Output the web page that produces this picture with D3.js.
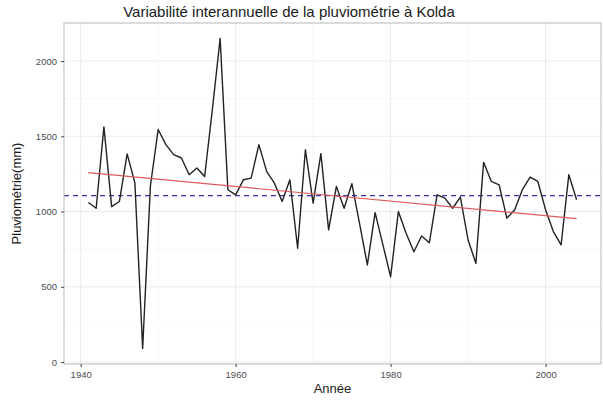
<!DOCTYPE html>
<html>
<head>
<meta charset="utf-8">
<script src="https://cdn.jsdelivr.net/npm/d3@7"></script>
<style>
  body { margin: 0; background: #fff; }
  svg { display: block; font-family: "Liberation Sans", Arial, sans-serif; }
</style>
</head>
<body>
<svg id="chart" width="603" height="400"></svg>
<script>
// Annual rainfall at Kolda (mm), 1941-2004
const years = d3.range(1941, 2005);
const rainfall = [
  1060, 1022, 1563, 1033, 1067, 1383, 1190, 90, 1170, 1545,
  1445, 1378, 1356, 1245, 1290, 1233, 1680, 2150, 1145, 1111,
  1211, 1222, 1445, 1267, 1189, 1067, 1211, 756, 1411, 1056,
  1385, 878, 1167, 1022, 1185, 918, 645, 993, 780, 567,
  1000, 856, 733, 838, 793, 1111, 1089, 1022, 1096, 811,
  656, 1327, 1200, 1178, 956, 1011, 1145, 1229, 1200, 1011,
  867, 778, 1245, 1078
];
const xTicks = [1940, 1960, 1980, 2000];
const xMinor = [1950, 1970, 1990];
const yTicks = [0, 500, 1000, 1500, 2000];
const yMinor = [250, 750, 1250, 1750];

const data = years.map((y, i) => ({ year: y, value: rainfall[i] }));

const svg = d3.select("#chart");
const panel = { left: 64, right: 601, top: 23, bottom: 364 };

// ggplot-style 5% expansion of the data range
function expand(ext) {
  const pad = (ext[1] - ext[0]) * 0.05;
  return [ext[0] - pad, ext[1] + pad];
}
const x = d3.scaleLinear().domain(expand(d3.extent(years))).range([panel.left, panel.right]);
const y = d3.scaleLinear().domain(expand(d3.extent(rainfall))).range([panel.bottom, panel.top]);

// panel background and grid
svg.append("rect")
  .attr("x", panel.left).attr("y", panel.top)
  .attr("width", panel.right - panel.left).attr("height", panel.bottom - panel.top)
  .attr("fill", "#fff");

const grid = svg.append("g");
grid.selectAll(".vminor").data(xMinor).join("line")
  .attr("x1", d => x(d)).attr("x2", d => x(d))
  .attr("y1", panel.top).attr("y2", panel.bottom)
  .attr("stroke", "#f4f4f4").attr("stroke-width", 0.6);
grid.selectAll(".hminor").data(yMinor).join("line")
  .attr("y1", d => y(d)).attr("y2", d => y(d))
  .attr("x1", panel.left).attr("x2", panel.right)
  .attr("stroke", "#f4f4f4").attr("stroke-width", 0.6);
grid.selectAll(".vmajor").data(xTicks).join("line")
  .attr("x1", d => x(d)).attr("x2", d => x(d))
  .attr("y1", panel.top).attr("y2", panel.bottom)
  .attr("stroke", "#ebebeb").attr("stroke-width", 1);
grid.selectAll(".hmajor").data(yTicks).join("line")
  .attr("y1", d => y(d)).attr("y2", d => y(d))
  .attr("x1", panel.left).attr("x2", panel.right)
  .attr("stroke", "#ebebeb").attr("stroke-width", 1);

// mean line
const mean = d3.mean(rainfall);
svg.append("line")
  .attr("x1", panel.left).attr("x2", panel.right)
  .attr("y1", y(mean)).attr("y2", y(mean))
  .attr("stroke", "#3535b0").attr("stroke-width", 1.1)
  .attr("stroke-dasharray", "5,4");

// rainfall series
svg.append("path")
  .datum(data)
  .attr("fill", "none")
  .attr("stroke", "#222")
  .attr("stroke-width", 1.4)
  .attr("stroke-linejoin", "round")
  .attr("d", d3.line().x(d => x(d.year)).y(d => y(d.value)));

// least-squares trend
const mx = d3.mean(years);
const slope = d3.sum(data, d => (d.year - mx) * (d.value - mean)) /
              d3.sum(data, d => (d.year - mx) ** 2);
const trend = yr => mean + slope * (yr - mx);
const yr0 = years[0], yr1 = years[years.length - 1];
svg.append("line")
  .attr("x1", x(yr0)).attr("x2", x(yr1))
  .attr("y1", y(trend(yr0))).attr("y2", y(trend(yr1)))
  .attr("stroke", "#e0585a").attr("stroke-width", 1.2);

// panel border
svg.append("rect")
  .attr("x", panel.left).attr("y", panel.top)
  .attr("width", panel.right - panel.left).attr("height", panel.bottom - panel.top)
  .attr("fill", "none").attr("stroke", "#b8b8b8").attr("stroke-width", 1);

// axes
const xAxis = svg.append("g")
  .attr("transform", `translate(0,${panel.bottom})`)
  .call(d3.axisBottom(x).tickValues(xTicks).tickSize(3).tickPadding(4).tickFormat(d3.format("d")));
const yAxis = svg.append("g")
  .attr("transform", `translate(${panel.left},0)`)
  .call(d3.axisLeft(y).tickValues(yTicks).tickSize(3).tickPadding(4).tickFormat(d3.format("d")));
[xAxis, yAxis].forEach(a => {
  a.select(".domain").remove();
  a.selectAll(".tick line").attr("stroke", "#444");
  a.selectAll(".tick text").attr("fill", "#4d4d4d").attr("font-size", 9.5)
    .attr("font-family", "Liberation Sans, Arial, sans-serif");
});

// titles
svg.append("text")
  .attr("x", 289).attr("y", 17)
  .attr("text-anchor", "middle").attr("font-size", 15).attr("fill", "#1a1a1a")
  .text("Variabilité interannuelle de la pluviométrie à Kolda");
svg.append("text")
  .attr("x", (panel.left + panel.right) / 2).attr("y", 393)
  .attr("text-anchor", "middle").attr("font-size", 13).attr("fill", "#1a1a1a")
  .text("Année");
svg.append("text")
  .attr("transform", `translate(21,${(panel.top + panel.bottom) / 2}) rotate(-90)`)
  .attr("text-anchor", "middle").attr("font-size", 13).attr("fill", "#1a1a1a")
  .text("Pluviométrie(mm)");
</script>
</body>
</html>
